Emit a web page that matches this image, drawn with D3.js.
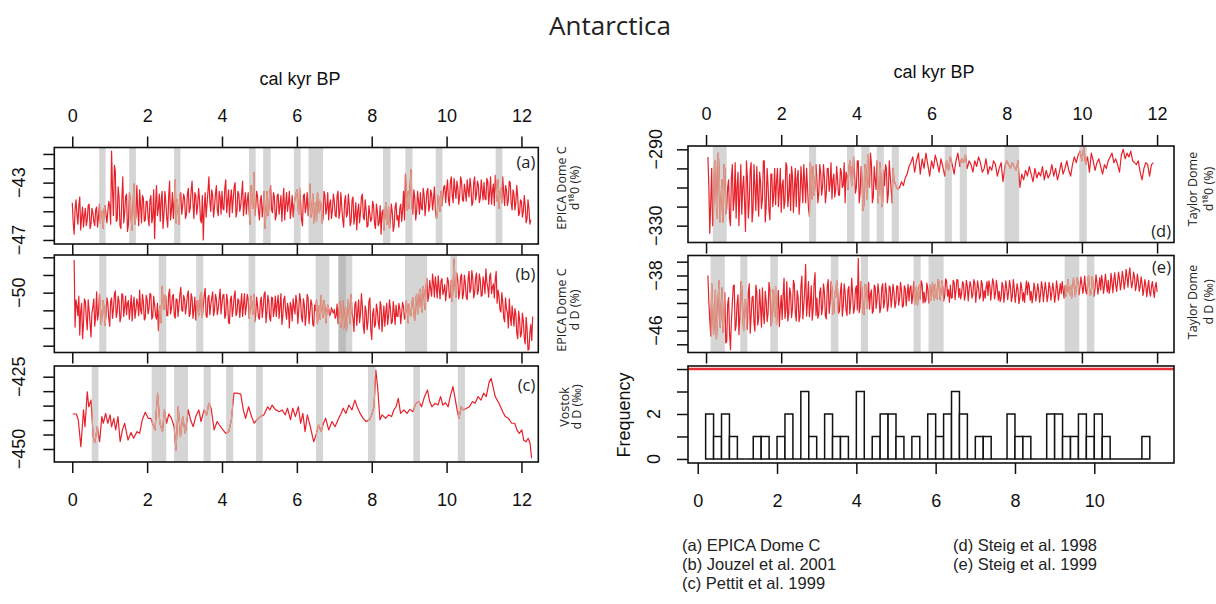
<!DOCTYPE html>
<html>
<head>
<meta charset="utf-8">
<script src="https://cdn.jsdelivr.net/npm/d3@7"></script>
<style>
  body { margin: 0; background: #fff; }
  svg { display: block; }
</style>
</head>
<body>
<svg id="fig" width="1216" height="604"></svg>
<script>
// ---------------- data ----------------
const ageStep = 0.05;          // kyr spacing of the main samples; *Mid arrays sit half a step later
const xTicks = [0, 2, 4, 6, 8, 10, 12];
const histXTicks = [0, 2, 4, 6, 8, 10];

// (a) EPICA Dome C d18O, from 0.00 kyr
const epicaO18Start = 0.0;
const epicaO18 = [
  -44.4,-46.6,-44.2,-45.9,-44.0,-45.4,-46.1,-44.8,-45.6,-44.5,-45.9,-45.1,-46.0,-44.7,-45.4,-45.8,-45.0,-44.9,-45.2,-45.0,
  -44.6,-40.8,-45.3,-42.2,-45.6,-44.0,-46.2,-42.6,-45.1,-43.8,-45.9,-44.2,-46.3,-43.1,-45.4,-44.9,-43.5,-45.8,-44.1,-45.6,
  -44.3,-46.0,-43.9,-45.4,-46.9,-43.2,-44.8,-45.7,-43.6,-45.2,-44.4,-46.1,-42.9,-44.9,-45.5,-42.8,-44.2,-45.9,-43.7,-44.6,
  -44.1,-45.2,-43.4,-44.8,-42.9,-45.5,-43.9,-44.6,-44.2,-45.8,-47.0,-43.7,-44.5,-42.6,-45.0,-43.9,-44.7,-43.2,-45.3,-44.0,
  -43.6,-44.9,-42.8,-44.3,-45.4,-43.5,-44.1,-43.0,-45.0,-43.8,-44.6,-42.9,-44.4,-45.2,-43.7,-45.9,-44.3,-42.3,-44.8,-44.0,
  -45.6,-43.9,-44.7,-46.2,-43.6,-44.9,-43.2,-45.1,-44.0,-45.3,-43.8,-44.6,-45.7,-43.4,-44.5,-45.0,-43.6,-44.8,-45.4,-44.1,
  -43.5,-45.2,-44.3,-46.0,-43.8,-44.6,-45.3,-43.1,-44.9,-45.8,-44.4,-43.7,-45.1,-44.6,-45.5,-43.9,-44.8,-45.6,-44.2,-44.9,
  -44.3,-45.4,-43.6,-45.0,-44.7,-46.1,-43.9,-45.2,-44.6,-45.7,-44.0,-45.3,-46.3,-44.5,-45.1,-43.8,-45.6,-44.9,-46.0,-45.2,
  -45.5,-44.6,-46.2,-45.0,-45.8,-46.6,-44.9,-45.3,-45.9,-44.7,-45.6,-45.1,-46.0,-44.4,-45.3,-44.8,-45.7,-43.6,-42.4,-44.9,
  -44.8,-42.1,-45.2,-44.0,-45.0,-44.3,-43.7,-44.9,-43.9,-44.5,-43.4,-44.6,-43.8,-44.2,-44.9,-45.3,-44.1,-43.6,-44.0,-43.2,
  -43.5,-44.2,-43.0,-43.9,-42.7,-44.1,-43.4,-43.9,-42.9,-44.3,-43.6,-42.8,-44.0,-43.3,-44.4,-42.6,-43.8,-43.2,-44.1,-43.5,
  -43.0,-44.2,-42.9,-43.7,-44.5,-43.1,-42.5,-44.3,-44.8,-43.4,-42.6,-44.6,-43.5,-44.2,-43.0,-44.9,-43.8,-44.4,-44.0,-45.1,
  -44.3,-45.0,-44.6,-45.5,-44.8,-45.6
];
const epicaO18Mid = [
  -45.8,-44.9,-45.2,-44.6,-46.3,-44.7,-45.3,-46.0,-44.6,-46.2,-44.8,-45.7,-44.9,-46.1,-44.5,-45.1,-46.2,-44.6,-45.8,-44.3,
  -45.9,-43.5,-41.8,-45.7,-43.3,-46.0,-44.1,-45.8,-44.0,-46.4,-43.7,-45.6,-44.4,-45.9,-43.2,-46.0,-44.6,-43.9,-45.7,-44.3,
  -45.4,-44.2,-45.8,-43.5,-44.6,-45.3,-43.8,-44.2,-46.2,-43.6,-45.5,-44.0,-45.6,-43.7,-44.3,-45.8,-44.8,-43.9,-45.2,-43.8,
  -45.5,-43.8,-45.1,-43.6,-44.4,-43.7,-45.2,-43.4,-45.6,-43.9,-44.8,-45.4,-43.6,-44.3,-43.5,-45.4,-43.8,-44.9,-43.6,-45.2,
  -44.8,-43.4,-45.1,-43.5,-44.2,-45.1,-43.3,-45.4,-43.6,-45.0,-43.8,-45.3,-43.7,-44.3,-45.1,-43.2,-44.8,-45.3,-43.6,-45.0,
  -44.2,-45.4,-43.6,-44.9,-45.3,-43.8,-44.9,-43.7,-45.6,-43.9,-45.2,-43.9,-44.4,-45.6,-43.7,-44.4,-45.5,-43.9,-44.6,-43.8,
  -44.6,-43.4,-45.6,-43.9,-45.1,-43.7,-44.6,-45.4,-43.8,-44.5,-45.7,-44.0,-44.3,-45.8,-43.6,-45.2,-43.7,-44.5,-45.5,-43.8,
  -45.3,-43.9,-45.5,-43.7,-45.6,-44.3,-45.4,-43.8,-46.0,-44.2,-45.9,-44.4,-45.0,-45.8,-44.0,-45.4,-44.2,-46.1,-44.6,-45.7,
  -44.3,-45.9,-44.5,-46.0,-44.6,-45.1,-46.3,-44.4,-45.8,-46.2,-44.5,-46.4,-44.7,-45.6,-46.1,-44.5,-44.9,-45.6,-43.9,-43.6,
  -43.2,-44.6,-43.5,-45.6,-43.6,-45.2,-44.8,-43.4,-45.3,-43.6,-45.0,-43.5,-44.9,-43.3,-45.5,-43.9,-45.0,-44.6,-43.3,-44.4,
  -42.8,-44.6,-42.6,-44.4,-43.5,-42.9,-44.5,-42.6,-44.2,-43.1,-44.3,-43.5,-42.7,-44.6,-43.0,-44.2,-42.9,-44.4,-42.8,-44.2,
  -44.1,-42.7,-44.5,-42.6,-43.6,-44.6,-43.3,-42.8,-43.7,-44.4,-43.7,-43.2,-44.6,-42.9,-44.4,-43.5,-44.9,-43.2,-45.3,-44.2,
  -45.4,-43.9,-45.8,-44.2,-45.9
];

// (b) EPICA Dome C dD, from 0.05 kyr
const epicaDDStart = 0.05;
const epicaDD = [
  -46.3,-50.8,-52.6,-54.8,-51.2,-53.5,-51.0,-54.2,-52.0,-55.0,-51.6,-53.8,-49.9,-52.4,-51.5,-52.3,-51.8,-52.6,-51.2,-53.8,
  -50.6,-51.9,-49.8,-52.2,-51.0,-52.8,-50.3,-51.6,-52.5,-50.9,-51.7,-53.2,-50.5,-52.0,-51.3,-49.7,-52.4,-51.1,-52.9,-50.8,
  -51.8,-50.2,-52.7,-51.4,-53.0,-54.3,-51.5,-49.3,-51.9,-50.4,-52.6,-49.6,-51.8,-50.2,-52.9,-50.8,-51.5,-49.4,-52.1,-50.7,
  -51.5,-49.8,-52.4,-50.6,-51.9,-53.1,-50.9,-52.2,-50.0,-51.6,-49.5,-52.8,-50.3,-51.4,-49.9,-52.0,-50.7,-51.8,-49.6,-51.2,
  -50.2,-52.5,-51.0,-53.5,-50.4,-51.8,-49.8,-52.3,-50.9,-51.4,-52.7,-50.1,-51.6,-50.8,-52.0,-51.3,-50.2,-52.6,-51.5,-53.0,
  -50.5,-51.7,-49.9,-52.2,-51.0,-53.2,-50.6,-51.9,-52.7,-50.3,-51.5,-53.6,-50.8,-52.1,-51.2,-54.0,-51.6,-50.7,-52.4,-51.1,
  -52.0,-50.9,-53.3,-51.4,-52.5,-50.6,-52.2,-51.3,-53.8,-52.0,-53.5,-51.5,-50.3,-52.8,-51.6,-52.2,-51.8,-52.4,-52.1,-51.9,
  -52.6,-53.5,-51.0,-52.8,-54.0,-51.6,-53.2,-52.0,-50.2,-52.9,-51.3,-53.7,-50.8,-52.4,-51.6,-54.6,-52.1,-53.3,-50.6,-55.3,
  -51.8,-53.6,-52.0,-54.1,-51.5,-52.9,-53.8,-51.2,-52.6,-51.9,-53.3,-52.2,-51.4,-52.7,-51.8,-52.3,-51.6,-52.5,-52.0,-51.3,
  -52.6,-50.6,-53.1,-50.2,-51.8,-49.6,-52.2,-50.0,-49.3,-51.0,-48.6,-50.4,-49.0,-48.2,-50.6,-49.4,-48.7,-50.2,-49.1,-49.8,
  -48.8,-50.4,-51.0,-46.2,-50.5,-48.6,-49.9,-47.9,-50.2,-48.9,-50.8,-47.6,-49.5,-48.4,-50.0,-47.8,-49.7,-48.6,-50.3,-48.9,
  -47.3,-49.4,-48.2,-50.1,-49.0,-48.5,-51.2,-50.4,-52.2,-51.0,-53.3,-51.8,-54.0,-52.6,-51.5,-53.8,-52.4,-55.2,-53.0,-54.6,
  -53.2,-55.8,-54.1,-56.4,-53.6,-52.7
];
const epicaDDMid = [
  -53.9,-51.5,-50.4,-52.1,-55.2,-50.7,-52.9,-50.8,-53.4,-52.3,-50.7,-52.6,-53.1,-50.2,-53.6,-50.9,-53.7,-50.6,-52.9,-51.0,
  -52.9,-50.2,-52.8,-50.4,-53.3,-50.1,-52.7,-50.4,-51.2,-53.0,-50.3,-51.4,-52.9,-50.7,-52.6,-52.0,-50.2,-53.1,-50.3,-52.4,
  -50.1,-53.0,-50.4,-52.6,-51.2,-52.0,-53.4,-50.9,-50.3,-52.6,-50.2,-52.4,-50.4,-52.6,-50.7,-52.7,-50.2,-52.0,-50.3,-52.4,
  -50.3,-52.7,-50.1,-52.9,-50.5,-51.0,-52.6,-50.2,-52.8,-50.3,-52.6,-50.6,-52.5,-50.6,-52.6,-50.2,-52.5,-50.7,-52.4,-50.3,
  -52.9,-50.2,-53.4,-50.8,-52.7,-50.4,-52.6,-50.7,-52.8,-50.1,-51.4,-52.5,-50.2,-52.9,-50.4,-52.4,-53.3,-50.5,-52.8,-51.0,
  -52.8,-50.2,-53.4,-50.3,-52.9,-50.5,-52.7,-50.4,-51.2,-52.9,-50.1,-52.6,-50.4,-53.0,-51.8,-51.1,-53.2,-51.6,-50.3,-53.5,
  -50.1,-52.8,-50.7,-53.7,-50.2,-53.5,-50.8,-53.6,-51.4,-50.8,-52.4,-53.0,-52.0,-50.9,-53.4,-51.4,-52.6,-51.7,-52.3,-52.9,
  -51.3,-52.2,-53.9,-50.9,-52.9,-54.3,-50.8,-53.5,-52.3,-54.4,-51.0,-52.2,-53.4,-50.1,-53.8,-51.5,-54.2,-51.0,-54.2,-52.4,
  -53.9,-51.3,-53.3,-51.0,-54.4,-51.5,-52.2,-53.6,-50.8,-53.5,-51.0,-53.6,-52.7,-51.2,-53.5,-51.1,-53.0,-50.9,-53.4,-52.4,
  -51.1,-52.5,-50.8,-52.4,-50.0,-51.7,-49.3,-51.9,-48.4,-50.3,-49.6,-47.9,-50.5,-49.3,-48.1,-50.7,-48.4,-49.8,-50.9,-48.3,
  -50.6,-48.6,-49.2,-49.3,-47.8,-50.7,-48.2,-50.7,-48.0,-50.5,-48.4,-50.0,-47.5,-50.6,-48.3,-50.2,-47.9,-50.4,-48.2,-50.1,
  -48.8,-50.5,-47.8,-49.4,-50.6,-47.6,-49.7,-51.9,-50.0,-52.8,-50.6,-52.3,-50.7,-53.7,-52.6,-51.8,-54.6,-52.1,-55.0,-52.3,
  -55.1,-52.8,-56.5,-54.6,-55.4
];

// (c) Vostok dD, irregular ages
const vostokAge = [
  0.01,0.11,0.16,0.23,0.30,0.34,0.40,0.44,0.50,0.56,0.60,0.67,0.73,0.79,0.83,0.89,0.95,1.01,1.05,1.11,
  1.16,1.22,1.28,1.34,1.40,1.49,1.57,1.64,1.73,1.80,1.87,1.95,2.03,2.10,2.16,2.21,2.28,2.34,2.41,2.46,
  2.52,2.58,2.65,2.72,2.77,2.83,2.89,2.95,3.02,3.10,3.16,3.23,3.30,3.38,3.44,3.52,3.59,3.65,3.71,3.79,
  3.87,3.93,3.99,4.10,4.18,4.25,4.32,4.40,4.50,4.57,4.63,4.71,4.79,4.86,4.93,5.02,5.12,5.22,5.28,5.34,
  5.42,5.53,5.61,5.69,5.75,5.83,5.89,5.96,6.04,6.10,6.16,6.22,6.28,6.36,6.45,6.51,6.58,6.65,6.71,6.77,
  6.85,6.94,7.02,7.10,7.18,7.24,7.31,7.39,7.47,7.55,7.61,7.69,7.77,7.85,7.94,8.00,8.06,8.11,8.16,8.22,
  8.28,8.37,8.45,8.53,8.59,8.65,8.71,8.77,8.86,8.94,9.02,9.10,9.18,9.26,9.33,9.41,9.49,9.55,9.61,9.69,
  9.77,9.84,9.90,9.97,10.04,10.10,10.17,10.22,10.28,10.33,10.39,10.45,10.53,10.61,10.69,10.76,10.84,10.92,10.99,11.06,
  11.14,11.19,11.24,11.30,11.40,11.50,11.57,11.65,11.74,11.82,11.88,11.94,12.01,12.06,12.12,12.18,12.23,12.27
];
const vostokDD = [
  -437.9,-437.9,-439.9,-449.2,-436.5,-442.3,-430.2,-435.4,-433.1,-445.7,-447.8,-442.3,-447.5,-438.8,-441.1,-437.7,-441.1,-438.2,-442.3,-439.4,
  -443.4,-438.8,-447.5,-443.4,-441.1,-446.9,-444.3,-446.3,-444.0,-444.6,-439.9,-437.3,-439.4,-439.4,-441.7,-443.4,-430.7,-441.1,-444.0,-436.5,
  -441.1,-437.9,-439.4,-442.3,-450.3,-435.4,-445.7,-438.8,-444.6,-436.5,-439.9,-442.3,-438.8,-436.5,-440.5,-436.5,-438.2,-434.2,-435.9,-443.4,
  -440.5,-441.7,-442.8,-444.6,-444.0,-439.9,-430.7,-430.7,-431.0,-436.5,-439.4,-435.4,-438.8,-441.1,-439.9,-438.8,-438.2,-435.4,-436.5,-434.8,
  -436.3,-437.1,-436.5,-438.2,-435.9,-439.9,-435.9,-438.8,-435.4,-441.1,-437.7,-444.0,-438.2,-442.3,-447.5,-445.2,-441.7,-444.0,-441.1,-439.4,
  -443.4,-440.5,-442.3,-439.9,-437.7,-435.9,-437.7,-434.8,-436.5,-433.1,-435.4,-437.7,-439.4,-440.5,-439.9,-438.2,-435.4,-422.7,-429.0,-439.9,
  -438.2,-439.4,-438.2,-438.8,-436.5,-435.4,-432.5,-437.7,-436.5,-437.7,-436.3,-437.1,-434.2,-433.6,-435.4,-431.9,-429.6,-433.6,-435.4,-434.2,
  -434.8,-431.9,-434.8,-434.0,-435.4,-431.7,-428.4,-431.9,-436.5,-439.4,-435.4,-436.5,-435.9,-435.4,-433.6,-434.2,-431.9,-433.1,-430.7,-431.9,
  -426.7,-425.6,-428.4,-431.9,-434.2,-437.1,-438.8,-439.4,-441.1,-441.1,-443.4,-444.6,-443.4,-446.9,-447.5,-446.3,-448.0,-453.2
];

// (d) Taylor Dome d18O, from 0.05 kyr
const taylorO18Start = 0.05;
const taylorO18 = [
  -294,-334,-300,-322,-296,-326,-302,-318,-328,-300,-321,-306,-330,-298,-316,-326,-302,-313,-324,-304,
  -333,-305,-318,-297,-322,-310,-299,-325,-307,-316,-296,-320,-309,-327,-303,-314,-319,-300,-312,-323,
  -306,-317,-299,-314,-322,-304,-311,-320,-301,-316,-308,-298,-318,-310,-325,-303,-299,-309,-306,-313,
  -302,-310,-305,-313,-300,-308,-316,-303,-311,-306,-314,-302,-309,-318,-304,-300,-299,-305,-302,-310,
  -296,-313,-305,-319,-301,-293,-310,-298,-315,-306,-296,-312,-303,-317,-309,-300,-313,-304,-318,-306,
  -309,-311,-310,-307,-309,-305,-303,-299,-297,-294,-302,-296,-292,-303,-295,-300,-292,-298,-304,-296,
  -300,-293,-297,-302,-295,-299,-304,-296,-301,-294,-298,-303,-296,-292,-299,-295,-297,-293,-300,-296,
  -298,-302,-296,-299,-294,-297,-302,-300,-295,-303,-299,-301,-296,-298,-304,-300,-297,-307,-299,-296,
  -298,-300,-297,-299,-301,-296,-310,-303,-306,-301,-304,-299,-303,-307,-300,-305,-302,-304,-299,-306,
  -301,-305,-303,-298,-304,-300,-306,-302,-297,-303,-300,-296,-301,-304,-298,-294,-297,-293,-291,-296,
  -289,-298,-294,-302,-292,-296,-301,-297,-295,-299,-303,-298,-300,-296,-294,-292,-297,-295,-298,-302,
  -293,-290,-295,-292,-294,-291,-296,-297,-298,-296,-302,-306,-300,-297,-298,-304,-298,-297
];
// denser sampling of the first 5 kyr, half a step after each main sample
const taylorO18Mid = [
  -310,-318,-330,-298,-318,-292,-328,-306,-298,-324,-310,-326,-305,-322,-297,-310,-330,-298,-310,-318,
  -296,-326,-301,-328,-298,-322,-314,-302,-321,-296,-328,-300,-322,-303,-320,-300,-307,-320,-300,-309,
  -321,-297,-320,-303,-299,-323,-300,-305,-324,-299,-318,-307,-300,-321,-297,-316,-314,-298,-318,-298,
  -314,-298,-318,-300,-312,-297,-306,-315,-299,-314,-300,-310,-297,-302,-311,-296,-309,-294,-313,-296,
  -318,-299,-322,-298,-316,-305,-292,-318,-299,-311,-318,-297,-320,-301,-298,-318,-296,-311,-300
];

// (e) Taylor Dome dD, from 0.05 kyr
const taylorDDStart = 0.05;
const taylorDD = [
  -38.0,-44.5,-39.2,-46.5,-40.1,-45.0,-38.8,-43.6,-46.2,-40.5,-47.6,-41.2,-48.8,-42.0,-39.4,-45.3,-40.8,-44.1,-39.6,-46.0,
  -41.5,-45.8,-39.2,-43.9,-41.0,-46.1,-40.3,-44.2,-42.6,-39.8,-45.0,-41.7,-43.5,-40.2,-44.8,-41.4,-39.6,-43.0,-45.4,-40.9,
  -41.0,-44.2,-38.9,-43.5,-40.6,-42.8,-39.3,-44.6,-41.2,-43.9,-38.1,-42.4,-36.4,-41.8,-44.0,-39.5,-42.9,-37.6,-41.3,-43.6,
  -39.8,-42.7,-40.5,-44.3,-38.6,-42.0,-39.9,-43.4,-41.1,-40.0,-43.2,-39.1,-42.5,-40.4,-43.8,-39.6,-41.9,-40.7,-42.8,-39.5,
  -35.5,-42.6,-40.2,-43.7,-39.4,-41.8,-42.9,-40.1,-43.2,-39.7,-41.5,-40.6,-42.7,-39.2,-41.9,-40.4,-42.3,-39.8,-41.2,-40.5,
  -42.0,-39.6,-41.3,-40.2,-42.4,-39.9,-40.8,-41.7,-39.5,-40.9,-42.2,-39.7,-40.6,-41.4,-39.3,-40.4,-41.6,-40.0,-39.4,-41.1,
  -40.2,-39.3,-41.4,-38.9,-40.5,-39.7,-40.9,-38.8,-40.1,-39.4,-41.2,-39.0,-40.3,-38.7,-39.9,-40.6,-39.2,-40.8,-39.5,-40.0,
  -39.6,-40.7,-39.1,-40.4,-39.8,-41.0,-39.3,-40.2,-39.7,-40.9,-39.5,-40.1,-39.0,-40.6,-39.8,-40.3,-41.3,-39.6,-40.5,-39.9,
  -40.4,-39.7,-40.9,-39.9,-40.6,-40.1,-41.2,-39.8,-40.5,-40.0,-40.8,-39.6,-40.3,-41.0,-39.9,-40.6,-40.2,-40.7,-39.8,-40.4,
  -40.1,-40.9,-39.7,-40.5,-40.2,-40.8,-39.9,-40.4,-40.6,-40.1,-39.5,-40.3,-39.8,-39.4,-40.0,-39.2,-39.7,-39.0,-39.6,-39.3,
  -39.6,-40.2,-39.1,-39.8,-40.4,-39.3,-39.9,-39.0,-39.7,-40.1,-38.9,-39.5,-39.2,-38.7,-39.8,-39.0,-38.6,-39.4,-38.9,-38.5,
  -39.1,-38.4,-38.9,-38.2,-37.9,-38.6,-39.0,-38.3,-39.4,-38.8,-39.6,-39.1,-40.0,-39.4,-39.8,-40.3,-39.6,-40.1,-39.7,-40.4
];
const taylorDDMid = [
  -42.0,-46.8,-42.5,-43.9,-47.2,-41.0,-45.5,-39.8,-44.0,-47.8,-42.2,-46.4,-44.5,-39.5,-46.0,-42.1,-46.6,-38.9,-43.8,-41.6,
  -44.2,-40.5,-46.4,-41.2,-44.9,-39.4,-45.2,-40.0,-45.5,-43.6,-40.3,-44.7,-39.0,-45.3,-40.1,-43.9,-45.1,-40.2,-42.8,-44.4,
  -38.4,-42.9,-44.6,-39.8,-44.1,-38.7,-43.4,-40.2,-44.7,-39.5,-44.3,-40.1,-43.9,-38.9,-42.1,-44.5,-39.1,-43.8,-44.2,-40.4,
  -43.7,-39.2,-43.9,-39.6,-43.5,-38.9,-43.6,-40.3,-38.7,-43.5,-40.4,-43.9,-39.2,-43.0,-40.1,-43.6,-38.4,-43.5,-40.0,-43.0,
  -43.4,-38.9,-43.5,-39.3,-42.8,-39.0,-40.7,-43.5,-39.4,-42.8,-39.2,-43.4,-39.7,-42.7,-39.1,-43.2,-39.5,-42.6,-39.3,-42.7,
  -39.5,-42.3,-39.0,-42.6,-39.5,-42.4,-39.3,-39.9,-42.1,-38.9,-40.0,-42.3,-39.4,-38.8,-42.0,-41.9,-39.1,-42.0,-41.6,-39.0,
  -41.6,-41.2,-38.6,-41.5,-38.8,-41.7,-38.5,-41.0,-41.9,-41.3,-38.7,-41.5,-38.6,-41.2,-41.4,-38.9,-41.6,-38.7,-41.7,-38.9,
  -41.3,-38.6,-41.9,-38.8,-41.4,-38.7,-41.7,-41.3,-38.9,-38.8,-41.6,-38.5,-41.4,-38.7,-41.6,-41.8,-39.0,-41.9,-38.8,-41.5,
  -38.7,-41.8,-38.6,-41.9,-39.2,-42.1,-39.0,-41.7,-41.9,-38.8,-39.0,-41.6,-42.0,-39.1,-41.7,-39.2,-41.9,-38.9,-41.8,-39.0,
  -41.8,-39.0,-41.6,-39.1,-41.9,-38.8,-41.6,-39.2,-38.9,-41.3,-41.0,-38.6,-40.8,-41.3,-38.4,-41.0,-38.3,-40.8,-38.2,-40.6,
  -38.1,-40.7,-38.0,-40.9,-38.2,-41.0,-37.9,-40.7,-38.3,-38.0,-40.6,-37.8,-40.4,-40.6,-37.7,-40.5,-37.6,-40.3,-37.5,-40.1,
  -37.4,-40.0,-37.1,-39.7,-36.9,-39.8,-37.5,-40.2,-37.8,-40.3,-38.2,-40.9,-38.6,-41.1,-38.7,-41.0,-38.9,-41.2,-39.0
];

// Shaded event windows [start, end] in kyr BP
const bandsA = [[0.72,0.89],[1.52,1.70],[2.72,2.89],[4.72,4.90],[5.10,5.30],[5.92,6.10],[6.31,6.70],[8.30,8.50],[8.90,9.09],[9.71,9.89],[11.31,11.49]];
const bandsB = [[0.72,0.91],[2.31,2.51],[3.31,3.50],[4.71,4.89],[6.50,6.87],[7.11,7.31],[7.11,7.48],[8.89,9.48],[10.10,10.28]];
const bandsC = [[0.52,0.70],[2.12,2.51],[2.72,3.09],[3.51,3.70],[4.11,4.30],[4.91,5.09],[6.51,6.70],[7.90,8.10],[9.11,9.29],[10.30,10.49]];
const bandsD = [[0.18,0.55],[2.74,2.93],[3.75,3.95],[4.13,4.35],[4.54,4.73],[4.94,5.13],[6.35,6.54],[6.75,6.94],[7.94,8.33],[9.93,10.13]];
const bandsE = [[0.12,0.50],[0.91,1.10],[1.71,1.91],[3.32,3.52],[4.12,4.31],[5.52,5.71],[5.92,6.32],[9.54,9.93],[10.13,10.33]];

// Histogram of event ages: 0.2 kyr bins from 0.2 kyr
const histBinStart = 0.2;
const histBinWidth = 0.2;
const histCounts = [
  2,1,2,1,0,0,1,1,0,1, 2,0,3,1,0,2,1,1,0,3,
  0,1,2,2,1,0,1,0,2,1, 2,3,2,0,1,1,0,0,2,1,
  1,0,0,2,2,1,1,2,1,2, 1,0,0,0,0,1
];
const histThreshold = 4;
const freqTicks = [0, 1, 2, 3, 4];
const freqLabels = [0, 2];

// ---------------- drawing ----------------
const svg = d3.select('#fig');
const RED = '#e8202a', TAN = '#d9a48f';
const AXIS_FONT = '"Liberation Sans", Arial, Helvetica, sans-serif';
const TEXT_FONT = '"Open Sans", "Noto Sans", sans-serif';
const xDomain = [-0.48, 12.45];

// merge main samples with the half-step samples into one age-ordered record
function record(start, main, mid) {
  const pts = main.map((v, i) => ({ age: start + i * ageStep, v }));
  (mid || []).forEach((v, i) => pts.push({ age: start + (i + 0.5) * ageStep, v }));
  return pts.sort((p, q) => p.age - q.age);
}
const zip = (a, v) => a.map((t, i) => ({ age: t, v: v[i] }));

const panels = [
  { id: 'a', data: record(epicaO18Start, epicaO18, epicaO18Mid), bands: bandsA,
    xr: [54.3, 538.3], yr: [147.5, 244], yd: [-47.28, -40.55],
    yTicks: [-41, -42, -43, -44, -45, -46, -47], yLabels: [-43, -47], yLabX: 25,
    top: true, bottomLabels: false, letter: '(a)', letterY: 168,
    side: ['EPICA Dome C', 'd¹⁸0 (%)'], sideX: [566, 579], sideY: 188 },
  { id: 'b', data: record(epicaDDStart, epicaDD, epicaDDMid), bands: bandsB,
    xr: [54.3, 538.3], yr: [255, 352.5], yd: [-56.77, -45.74],
    yTicks: [-46, -48, -50, -52, -54, -56], yLabels: [-50], yLabX: 25,
    top: false, bottomLabels: false, letter: '(b)', letterY: 280,
    side: ['EPICA Dome C', 'd D (%)'], sideX: [566, 579], sideY: 310 },
  { id: 'c', data: zip(vostokAge, vostokDD), bands: bandsC,
    xr: [54.3, 538.3], yr: [366, 462], yd: [-454.5, -421.3],
    yTicks: [-425, -430, -435, -440, -445, -450], yLabels: [-425, -450], yLabX: 25,
    top: false, bottomLabels: true, letter: '(c)', letterY: 391,
    side: ['Vostok', 'd D (‰)'], sideX: [569, 581], sideY: 407 },
  { id: 'd', data: record(taylorO18Start, taylorO18, taylorO18Mid), bands: bandsD,
    xr: [688, 1174], yr: [146, 242.5], yd: [-338.8, -288.27],
    yTicks: [-290, -300, -310, -320, -330], yLabels: [-290, -330], yLabX: 662,
    top: true, bottomLabels: false, letter: '(d)', letterY: 237,
    side: ['Taylor Dome', 'd¹⁸0 (%)'], sideX: [1197, 1213], sideY: 189 },
  { id: 'e', data: record(taylorDDStart, taylorDD, taylorDDMid), bands: bandsE,
    xr: [688, 1174], yr: [255.5, 352.5], yd: [-49.19, -35.1],
    yTicks: [-36, -38, -40, -42, -44, -46, -48], yLabels: [-38, -46], yLabX: 662,
    top: false, bottomLabels: false, letter: '(e)', letterY: 273,
    side: ['Taylor Dome', 'd D (‰)'], sideX: [1197, 1213], sideY: 302 }
];

const fmtNum = d => (d < 0 ? '\u2212' + Math.abs(d) : String(d));

function styleAxis(g) {
  g.select('.domain').remove();
  g.selectAll('.tick line').attr('stroke', '#111').attr('stroke-width', 1.5);
  g.selectAll('.tick text').attr('fill', '#111');
  g.attr('font-family', AXIS_FONT).attr('font-size', 18);
}

panels.forEach(p => {
  const x = d3.scaleLinear().domain(xDomain).range(p.xr);
  const y = d3.scaleLinear().domain(p.yd).range([p.yr[1], p.yr[0]]);
  const g = svg.append('g').attr('class', 'panel-' + p.id);
  const defs = svg.append('defs');

  defs.append('clipPath').attr('id', 'box-' + p.id)
    .append('rect').attr('x', p.xr[0]).attr('y', p.yr[0])
    .attr('width', p.xr[1] - p.xr[0]).attr('height', p.yr[1] - p.yr[0]);
  const bandClip = defs.append('clipPath').attr('id', 'bands-' + p.id);
  p.bands.forEach(b => bandClip.append('rect')
    .attr('x', x(b[0])).attr('y', p.yr[0])
    .attr('width', x(b[1]) - x(b[0])).attr('height', p.yr[1] - p.yr[0]));

  // shaded windows
  g.append('g').selectAll('rect').data(p.bands).join('rect')
    .attr('x', d => x(d[0])).attr('y', p.yr[0])
    .attr('width', d => x(d[1]) - x(d[0])).attr('height', p.yr[1] - p.yr[0])
    .attr('fill', '#9c9c9c').attr('fill-opacity', 0.42);

  const line = d3.line().x(d => x(d.age)).y(d => y(d.v));
  g.append('path').datum(p.data).attr('d', line)
    .attr('clip-path', `url(#box-${p.id})`)
    .attr('fill', 'none').attr('stroke', RED).attr('stroke-width', 1.2)
    .attr('stroke-linejoin', 'round');
  g.append('path').datum(p.data).attr('d', line)
    .attr('clip-path', `url(#bands-${p.id})`)
    .attr('fill', 'none').attr('stroke', TAN).attr('stroke-width', 1.2)
    .attr('stroke-linejoin', 'round');

  // frame
  g.append('rect').attr('x', p.xr[0]).attr('y', p.yr[0])
    .attr('width', p.xr[1] - p.xr[0]).attr('height', p.yr[1] - p.yr[0])
    .attr('fill', 'none').attr('stroke', '#111').attr('stroke-width', 1.6);

  // x axes
  if (p.top) {
    g.append('g').attr('transform', `translate(0,${p.yr[0]})`)
      .call(d3.axisTop(x).tickValues(xTicks).tickSize(11).tickPadding(15).tickFormat(d3.format('d')))
      .call(styleAxis);
  }
  g.append('g').attr('transform', `translate(0,${p.yr[1]})`)
    .call(d3.axisBottom(x).tickValues(xTicks).tickSize(11).tickPadding(20)
      .tickFormat(p.bottomLabels ? d3.format('d') : ''))
    .call(styleAxis);

  // y axis ticks with rotated labels
  g.append('g').attr('transform', `translate(${p.xr[0]},0)`)
    .call(d3.axisLeft(y).tickValues(p.yTicks).tickSize(11).tickFormat(''))
    .call(styleAxis);
  g.append('g').selectAll('text').data(p.yLabels).join('text')
    .attr('transform', d => `translate(${p.yLabX},${y(d)}) rotate(-90)`)
    .attr('text-anchor', 'middle').attr('font-family', AXIS_FONT).attr('font-size', 18)
    .attr('fill', '#111').text(fmtNum);

  // panel letter
  g.append('text').attr('x', p.xr[1] - 3).attr('y', p.letterY)
    .attr('text-anchor', 'end').attr('font-family', TEXT_FONT).attr('font-size', 16.5)
    .attr('fill', '#222').text(p.letter);

  // record name on the right
  p.side.forEach((s, i) => g.append('text')
    .attr('transform', `translate(${p.sideX[i]},${p.sideY}) rotate(-90)`)
    .attr('text-anchor', 'middle').attr('font-family', TEXT_FONT).attr('font-size', 12.5)
    .attr('fill', '#222').text(s));
});

// ---------------- histogram ----------------
{
  const box = { x0: 688, x1: 1174, y0: 366, y1: 463 };
  const hx = d3.scaleLinear().domain([-0.245, 12.01]).range([box.x0, box.x1]);
  const hy = d3.scaleLinear().domain([-0.18, 4.135]).range([box.y1, box.y0]);
  const g = svg.append('g').attr('class', 'hist');

  const bins = histCounts.map((c, i) => ({ x0: histBinStart + i * histBinWidth, n: c }));
  g.append('g').selectAll('path').data(bins).join('path')
    .attr('d', d => {
      const a = hx(d.x0), b = hx(d.x0 + histBinWidth), base = hy(0), top = hy(d.n);
      return `M${a},${base}V${top}H${b}V${base}Z`;
    })
    .attr('fill', '#fff').attr('stroke', '#111').attr('stroke-width', 1.5);

  g.append('line').attr('x1', box.x0).attr('x2', box.x1)
    .attr('y1', hy(histThreshold)).attr('y2', hy(histThreshold))
    .attr('stroke', '#e8323a').attr('stroke-width', 2.6);

  g.append('rect').attr('x', box.x0).attr('y', box.y0)
    .attr('width', box.x1 - box.x0).attr('height', box.y1 - box.y0)
    .attr('fill', 'none').attr('stroke', '#111').attr('stroke-width', 1.6);

  g.append('g').attr('transform', `translate(0,${box.y1})`)
    .call(d3.axisBottom(hx).tickValues(histXTicks).tickSize(11).tickPadding(20).tickFormat(d3.format('d')))
    .call(styleAxis);
  g.append('g').attr('transform', `translate(${box.x0},0)`)
    .call(d3.axisLeft(hy).tickValues(freqTicks).tickSize(11).tickFormat(''))
    .call(styleAxis);
  g.append('g').selectAll('text').data(freqLabels).join('text')
    .attr('transform', d => `translate(660,${hy(d)}) rotate(-90)`)
    .attr('text-anchor', 'middle').attr('font-family', AXIS_FONT).attr('font-size', 18)
    .attr('fill', '#111').text(fmtNum);
  g.append('text').attr('transform', 'translate(630,415) rotate(-90)')
    .attr('text-anchor', 'middle').attr('font-family', AXIS_FONT).attr('font-size', 18)
    .attr('fill', '#111').text('Frequency');
}

// ---------------- titles and legend ----------------
svg.append('text').attr('x', 610).attr('y', 35).attr('text-anchor', 'middle')
  .attr('font-family', TEXT_FONT).attr('font-size', 26).attr('fill', '#222').text('Antarctica');
svg.append('text').attr('x', 300).attr('y', 85).attr('text-anchor', 'middle')
  .attr('font-family', AXIS_FONT).attr('font-size', 18).attr('fill', '#111').text('cal kyr BP');
svg.append('text').attr('x', 934).attr('y', 78).attr('text-anchor', 'middle')
  .attr('font-family', AXIS_FONT).attr('font-size', 18).attr('fill', '#111').text('cal kyr BP');

const legendLeft = ['(a) EPICA Dome C', '(b) Jouzel et al. 2001', '(c) Pettit et al. 1999'];
const legendRight = ['(d) Steig et al. 1998', '(e) Steig et al. 1999'];
const legend = svg.append('g').attr('font-family', AXIS_FONT).attr('font-size', 16.5).attr('fill', '#222');
legendLeft.forEach((t, i) => legend.append('text').attr('x', 682).attr('y', 551 + i * 19).text(t));
legendRight.forEach((t, i) => legend.append('text').attr('x', 953).attr('y', 551 + i * 19).text(t));
</script>
</body>
</html>
